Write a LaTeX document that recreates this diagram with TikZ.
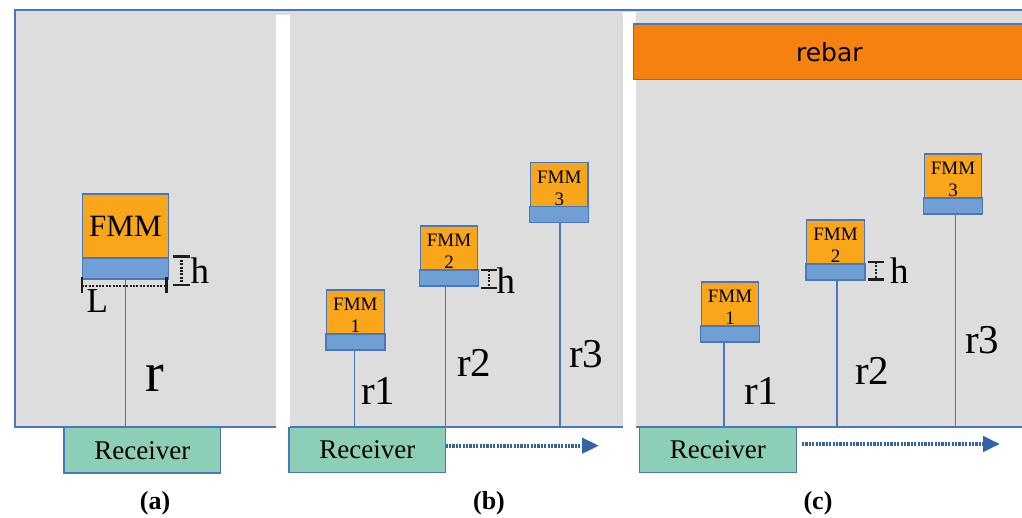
\documentclass[tikz,border=0pt]{standalone}
\usepackage{fontspec}
\setmainfont{Liberation Serif}
\newfontfamily\rebarfont{DejaVu Sans}
\usetikzlibrary{arrows.meta,positioning}
\definecolor{bggray}{HTML}{DDDDDD}
\definecolor{edgeblue}{HTML}{4A77BA}
\definecolor{fmmorange}{HTML}{FAA61A}
\definecolor{barblue}{HTML}{6F9FD4}
\definecolor{recgreen}{HTML}{8DCFB6}
\definecolor{rebarorange}{HTML}{F5820E}
\definecolor{arrowblue}{HTML}{3263A6}
\definecolor{markdark}{HTML}{1E1E1E}
\begin{document}
\begin{tikzpicture}[x=1pt,y=-1pt,
  box/.style={draw=edgeblue, line width=1.2pt, inner sep=0pt, outer sep=0pt},
  fmmbig/.style={box, fill=fmmorange, minimum width=86pt, minimum height=64pt, font=\fontsize{31}{31}\selectfont},
  fmmsmall/.style={box, fill=fmmorange, minimum width=57.5pt, minimum height=44pt, align=center, font=\fontsize{19}{22}\selectfont},
  barbig/.style={box, fill=barblue, anchor=north, minimum width=86pt, minimum height=21pt},
  barsmall/.style={box, fill=barblue, anchor=north, minimum width=59pt, minimum height=16pt},
  receiver/.style={box, fill=recgreen, minimum width=156.7pt, minimum height=45.5pt, font=\fontsize{27}{27}\selectfont},
  wire/.style={draw=edgeblue, line width=1.1pt},
  rlabel/.style={anchor=base west, inner sep=0pt, font=\fontsize{41}{41}\selectfont},
  hlabel/.style={anchor=base west, inner sep=0pt, font=\fontsize{37}{37}\selectfont},
  caption/.style={anchor=base, inner sep=0pt, font=\fontsize{26}{26}\selectfont\bfseries},
  hmark/.style={draw=markdark, line width=2.4pt},
  hdots/.style={draw=markdark, line width=2.6pt, dash pattern=on 2pt off 1.4pt},
  movearrow/.style={draw=arrowblue, line width=4pt, dash pattern=on 2.2pt off 1.2pt, -{Triangle[length=17pt,width=15pt]}}
]
\useasboundingbox (0,0) rectangle (1022,518);
% panels background
\fill[bggray] (15,10) rectangle (1030,427);
\draw[edgeblue, line width=1.2pt] (1030,10) -- (15,10) -- (15,427) -- (1030,427);
\fill[white] (276.3,15) rectangle (289.7,429);
\fill[white] (622.7,12.5) rectangle (635.7,429);

% ---------- panel (a)
\node[fmmbig] (afmm) at (125.4,226) {FMM};
\node[barbig] (abar) at (afmm.south) {};
\node[receiver] (arec) at (142.3,450.3) {Receiver};
\draw[wire] (abar.south) -- (abar.south |- arec.north);
% L dimension
\draw[hdots] (82,286) -- (166.5,286);
\draw[hmark] (82,277.5) -- (82,293);
\draw[hmark] (166.5,277.5) -- (166.5,293);
\node[anchor=base west, inner sep=0pt, font=\fontsize{35}{35}\selectfont] (alab) at (86.5,313) {L};
% h dimension
\draw[hmark] (173.3,256.5) -- (190,256.5);
\draw[hmark] (173.3,285.3) -- (190,285.3);
\draw[hdots] (181.7,256.5) -- (181.7,285.3);
\node[hlabel] (ah) at (190.5,284) {h};
\node[anchor=base west, inner sep=0pt, font=\fontsize{56}{56}\selectfont] (ar) at (145,391) {r};
\node[caption] (capa) at (155,509) {(a)};

% ---------- panel (b)
\node[fmmsmall] (bf1) at (355.4,312) {\rule{0pt}{20pt}FMM\\1};
\node[barsmall] (bb1) at (bf1.south) {};
\node[fmmsmall] (bf2) at (449,248) {\rule{0pt}{20pt}FMM\\2};
\node[barsmall] (bb2) at (bf2.south) {};
\node[fmmsmall] (bf3) at (559.3,184.2) {\rule{0pt}{20pt}FMM\\3};
\node[barsmall] (bb3) at (bf3.south) {};
\node[receiver] (brec) at (367.3,450) {Receiver};
\draw[wire] ([xshift=-0.5pt]bb1.south) -- ([xshift=-0.5pt]bb1.south |- brec.north);
\draw[wire] ([xshift=-3.3pt]bb2.south) -- ([xshift=-3.3pt]bb2.south |- brec.north);
\draw[wire] ([xshift=0.7pt]bb3.south) -- ([xshift=0.7pt]bb3.south |- brec.north);
\draw[hmark] (481,270.3) -- (496.7,270.3);
\draw[hmark] (481,288) -- (496.7,288);
\draw[hdots] (489,270.3) -- (489,288);
\node[hlabel] (bh) at (496.5,293.3) {h};
\node[rlabel] (br1) at (361,404) {r1};
\node[rlabel] (br2) at (457,376) {r2};
\node[rlabel] (br3) at (569,367) {r3};
\coordinate (bend) at (599,445.7);
\draw[movearrow] ([yshift=4.3pt]brec.east) -- (bend);
\node[caption] (capb) at (489,509) {(b)};

% ---------- panel (c)
\node[box, fill=rebarorange, minimum width=392pt, minimum height=55.3pt, font=\rebarfont\fontsize{25}{25}\selectfont] (rebar) at (829.3,51.7) {rebar};
\node[fmmsmall] (cf1) at (730,304) {\rule{0pt}{20pt}FMM\\1};
\node[barsmall] (cb1) at (cf1.south) {};
\node[fmmsmall] (cf2) at (835.5,242) {\rule{0pt}{20pt}FMM\\2};
\node[barsmall] (cb2) at (cf2.south) {};
\node[fmmsmall] (cf3) at (953,176) {\rule{0pt}{20pt}FMM\\3};
\node[barsmall] (cb3) at (cf3.south) {};
\node[receiver] (crec) at (717.8,450) {Receiver};
\draw[wire] ([xshift=-6pt]cb1.south) -- ([xshift=-6pt]cb1.south |- crec.north);
\draw[wire] ([xshift=1.5pt]cb2.south) -- ([xshift=1.5pt]cb2.south |- crec.north);
\draw[wire] ([xshift=2.7pt]cb3.south) -- ([xshift=2.7pt]cb3.south |- crec.north);
\draw[hmark] (868.3,262) -- (884,262);
\draw[hmark] (868.3,279.7) -- (884,279.7);
\draw[hdots] (876,262) -- (876,279.7);
\node[hlabel] (ch) at (890,284) {h};
\node[rlabel] (cr1) at (744,404) {r1};
\node[rlabel] (cr2) at (855,384) {r2};
\node[rlabel] (cr3) at (965,353) {r3};
\coordinate (cstart) at (802,444);
\coordinate (cend) at (1000,444);
\draw[movearrow] (cstart) -- (cend);
\node[caption] (capc) at (818,509) {(c)};
\end{tikzpicture}
\end{document}
